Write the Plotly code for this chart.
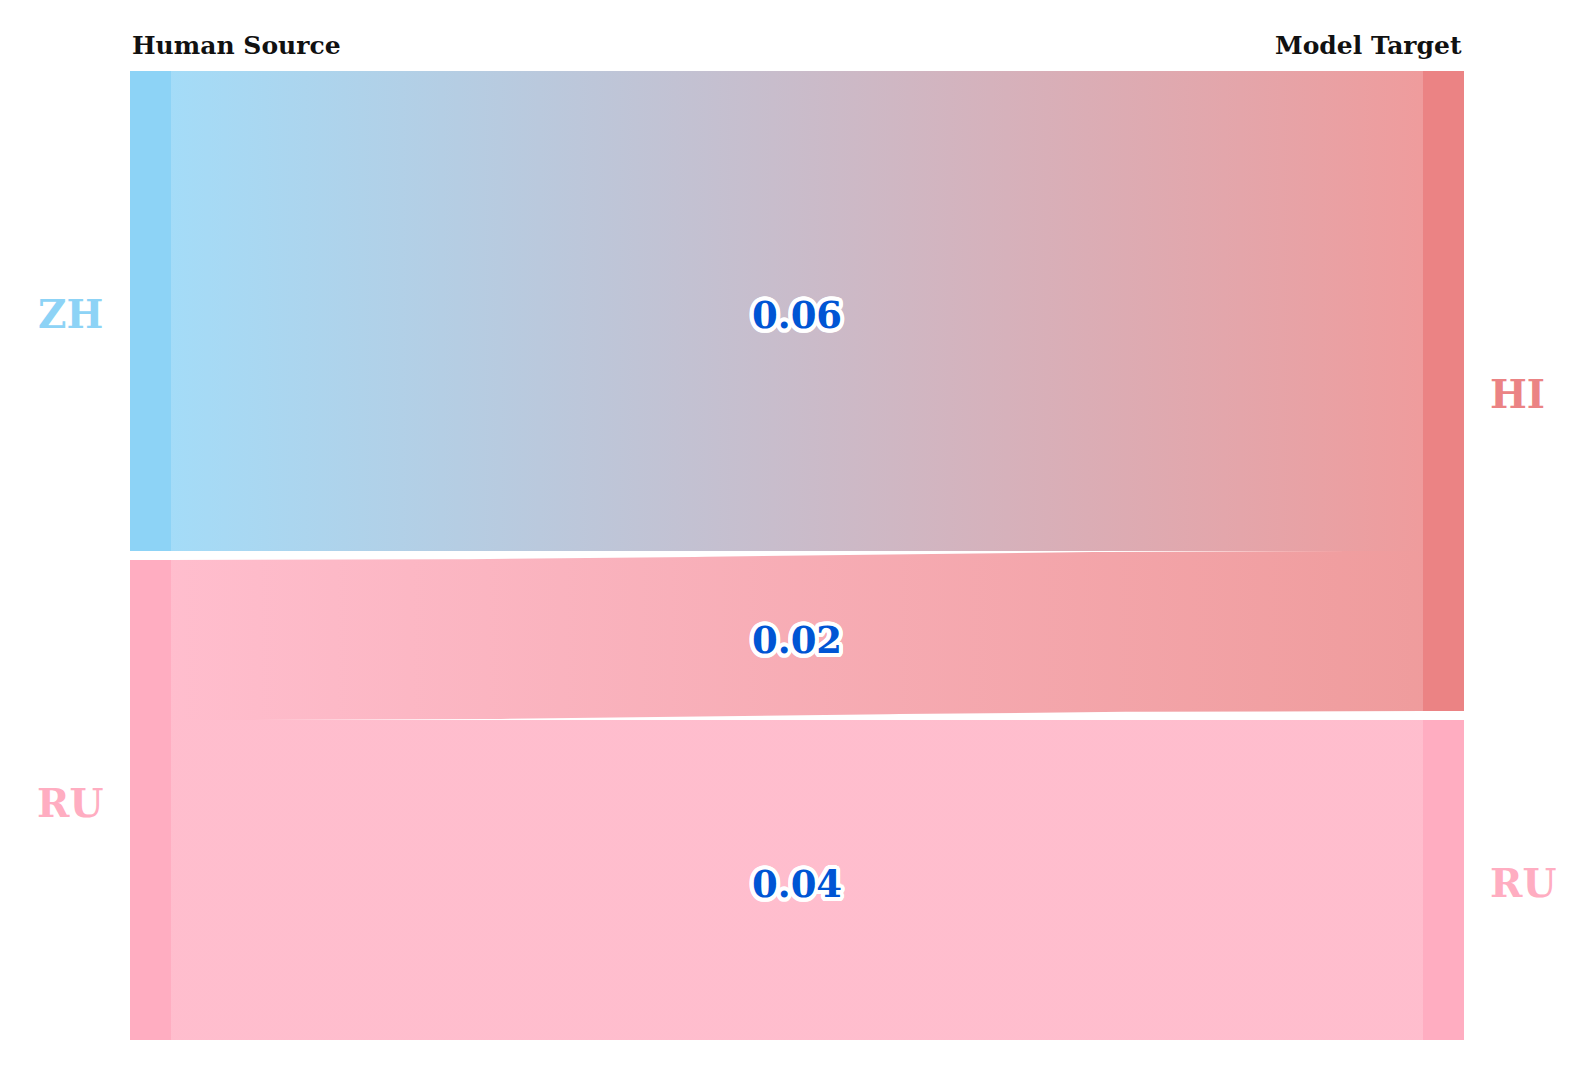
import numpy as np
import plotly.graph_objects as go

# ---- data ----
source_nodes = ["ZH", "RU"]
target_nodes = ["HI", "RU"]
source_colors = ["#8DD3F6", "#FFADC1"]
target_colors = ["#EB8384", "#FFADC1"]
link_source = [0, 1, 1]
link_target = [0, 0, 1]
link_values = [0.06, 0.02, 0.04]
link_labels = ["0.06", "0.02", "0.04"]
column_titles = ["Human Source", "Model Target"]

# ---- layout constants (pixel space of the axes) ----
W, H = 1592, 1076
X_LEFT, X_RIGHT = 130, 1464
NODE_W = 41
TOP, BOTTOM = 71, 1040
PAD = 9
LINK_ALPHA = 0.8


def hex_rgba(h, a):
    h = h.lstrip("#")
    r, g, b = int(h[0:2], 16), int(h[2:4], 16), int(h[4:6], 16)
    return f"rgba({r},{g},{b},{a})"


src_tot = [sum(v for s, v in zip(link_source, link_values) if s == i) for i in range(len(source_nodes))]
tgt_tot = [sum(v for t, v in zip(link_target, link_values) if t == i) for i in range(len(target_nodes))]
k = min((BOTTOM - TOP - PAD * (len(source_nodes) - 1)) / sum(src_tot),
        (BOTTOM - TOP - PAD * (len(target_nodes) - 1)) / sum(tgt_tot))


def node_pos(totals):
    ys, y = [], TOP
    for t in totals:
        ys.append((y, y + t * k))
        y += t * k + PAD
    return ys


src_y = node_pos(src_tot)
tgt_y = node_pos(tgt_tot)

fig = go.Figure()

# links
src_off = [p[0] for p in src_y]
tgt_off = [p[0] for p in tgt_y]
sx = X_LEFT + NODE_W
tx = X_RIGHT - NODE_W
link_mid = []
for s, t, v in zip(link_source, link_target, link_values):
    h = v * k
    y0a, y0b = src_off[s], src_off[s] + h
    y1a, y1b = tgt_off[t], tgt_off[t] + h
    src_off[s] += h
    tgt_off[t] += h
    u = np.linspace(0, 1, 80)
    xm = (sx + tx) / 2
    bx = (1 - u) ** 3 * sx + 3 * (1 - u) ** 2 * u * xm + 3 * (1 - u) * u ** 2 * xm + u ** 3 * tx
    ey = lambda a, b: (1 - u) ** 3 * a + 3 * (1 - u) ** 2 * u * a + 3 * (1 - u) * u ** 2 * b + u ** 3 * b
    top = ey(y0a, y1a)
    bot = ey(y0b, y1b)
    xs = np.concatenate([bx, bx[::-1], [bx[0]]])
    ys = np.concatenate([top, bot[::-1], [top[0]]])
    fig.add_trace(go.Scatter(
        x=xs, y=ys, mode="lines", line=dict(width=0), fill="toself",
        fillgradient=dict(type="horizontal",
                          colorscale=[[0, hex_rgba(source_colors[s], LINK_ALPHA)],
                                      [1, hex_rgba(target_colors[t], LINK_ALPHA)]]),
        hoverinfo="skip", showlegend=False))
    link_mid.append(((sx + tx) / 2, ((y0a + y0b) / 2 + (y1a + y1b) / 2) / 2))


def add_node(x0, y0, y1, color):
    fig.add_trace(go.Scatter(
        x=[x0, x0 + NODE_W, x0 + NODE_W, x0, x0], y=[y0, y0, y1, y1, y0],
        mode="lines", line=dict(width=0), fill="toself", fillcolor=color,
        hoverinfo="skip", showlegend=False))


for (y0, y1), c in zip(src_y, source_colors):
    add_node(X_LEFT, y0, y1, c)
for (y0, y1), c in zip(tgt_y, target_colors):
    add_node(X_RIGHT - NODE_W, y0, y1, c)

FONT = "DejaVu Serif"
ann = []
for (y0, y1), c, lab in zip(src_y, source_colors, source_nodes):
    ann.append(dict(x=X_LEFT - 25, y=(y0 + y1) / 2, yshift=-3, text=f"<b>{lab}</b>", xanchor="right",
                    yanchor="middle", showarrow=False, font=dict(family=FONT, size=39, color=c)))
for (y0, y1), c, lab in zip(tgt_y, target_colors, target_nodes):
    ann.append(dict(x=X_RIGHT + 24, y=(y0 + y1) / 2, yshift=-3, text=f"<b>{lab}</b>", xanchor="left",
                    yanchor="middle", showarrow=False, font=dict(family=FONT, size=39, color=c)))
offs = []
for a in range(0, 360, 15):
    r = np.deg2rad(a)
    offs.append((round(4 * np.cos(r), 1), round(4 * np.sin(r), 1)))
shadow = ", ".join(f"{dx}px {dy}px 0 white" for dx, dy in offs)
for (mx, my), lab in zip(link_mid, link_labels):
    ann.append(dict(x=mx, y=my, yshift=-4, text=f"<b>{lab}</b>", xanchor="center", yanchor="middle",
                    showarrow=False, font=dict(family=FONT, size=37, color="#0055D4", shadow=shadow)))
ann.append(dict(x=X_LEFT, y=TOP - 9, text=f"<b>{column_titles[0]}</b>", xanchor="left", yanchor="bottom",
                showarrow=False, font=dict(family=FONT, size=25, color="#111111")))
ann.append(dict(x=X_RIGHT, y=TOP - 9, text=f"<b>{column_titles[1]}</b>", xanchor="right", yanchor="bottom",
                showarrow=False, font=dict(family=FONT, size=25, color="#111111")))

fig.update_layout(
    width=W, height=H, margin=dict(l=0, r=0, t=0, b=0),
    paper_bgcolor="white", plot_bgcolor="white",
    xaxis=dict(range=[0, W], visible=False, fixedrange=True),
    yaxis=dict(range=[H, 0], visible=False, fixedrange=True),
    annotations=ann,
)
fig.write_html("out.html", config={"displayModeBar": False},
               post_script="document.body.style.margin='0';document.body.style.overflow='hidden';")
